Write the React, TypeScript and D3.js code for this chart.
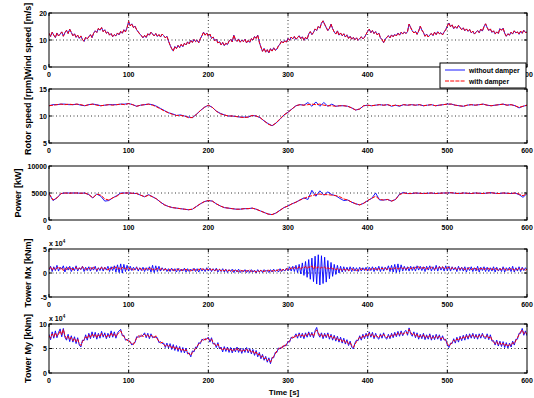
import React from 'react';
import * as d3 from 'd3';

const W = 534;
const H = 398;
const X0 = 49;
const X1 = 527;
const T_END = 600;

const timeTicks = [0, 100, 200, 300, 400, 500, 600];

// wind speed [m/s], every 2 s from 0 to 600 (same input for both runs)
const windSpeed = [
  12.5, 11.3, 12.9, 11.8, 10.9, 12.6, 11.5, 12.2, 13.0, 11.4, 12.7, 13.6, 12.4, 14.0, 12.8, 11.6, 12.3, 11.0, 11.8, 10.6, 11.5, 10.2, 9.5, 11.0, 10.4,
  11.2, 12.0, 10.9, 12.5, 13.4, 12.8, 14.3, 13.6, 14.6, 13.1, 13.8, 12.5, 13.0, 11.8, 12.4, 11.2, 12.0, 11.5, 12.6, 11.9, 13.2, 12.5, 13.8, 13.0, 14.6,
  16.9, 15.2, 16.0, 14.6, 15.1, 13.8, 13.0, 12.2, 11.6, 10.8, 11.7, 10.9, 12.3, 11.8, 12.9, 12.2, 11.5, 12.4, 11.3, 12.0, 11.1, 12.2, 11.6, 10.8, 11.4,
  9.6, 8.1, 6.8, 5.9, 7.6, 6.8, 8.0, 7.2, 8.4, 7.5, 8.8, 8.2, 9.3, 8.6, 9.9, 9.1, 10.2, 9.4, 9.9, 9.0, 10.5, 11.6, 12.9, 11.8, 12.6,
  11.4, 12.2, 10.6, 11.1, 9.7, 10.3, 8.9, 9.4, 8.2, 9.1, 7.9, 8.8, 8.3, 9.6, 10.2, 9.3, 11.8, 10.1, 9.5, 10.4, 9.2, 10.0, 9.4, 10.3, 8.9,
  9.8, 9.1, 10.5, 10.0, 11.3, 10.6, 11.8, 9.2, 7.4, 5.8, 6.9, 5.5, 6.4, 5.2, 6.8, 5.9, 7.1, 6.2, 6.6, 7.8, 8.5, 9.6, 8.9, 9.8, 9.2,
  10.6, 9.9, 11.1, 10.4, 11.3, 10.2, 10.9, 11.6, 10.5, 11.2, 9.9, 11.0, 10.3, 12.2, 13.1, 12.0, 12.8, 14.1, 13.5, 15.0, 14.4, 16.2, 17.1, 15.8, 14.6,
  13.5, 14.3, 15.9, 14.2, 13.0, 12.2, 13.4, 11.8, 12.6, 11.5, 12.3, 11.1, 11.9, 10.6, 11.4, 10.3, 11.0, 10.1, 10.8, 9.9, 10.5, 11.2, 10.4, 11.0, 12.1,
  13.2, 14.0, 12.7, 13.5, 12.4, 13.1, 11.9, 12.6, 10.8, 10.2, 9.0, 10.4, 10.9, 11.6, 10.8, 11.9, 11.2, 12.1, 11.5, 12.6, 11.8, 12.9, 12.2, 13.0, 12.4,
  13.1, 15.9, 14.6, 13.4, 12.6, 13.2, 12.1, 13.3, 15.1, 13.7, 12.8, 11.4, 12.2, 11.1, 11.9, 12.4, 11.6, 12.9, 12.0, 13.1, 12.3, 12.7, 11.9, 13.0, 13.8,
  15.2, 16.3, 14.9, 15.6, 14.2, 15.0, 14.3, 15.4, 14.6, 13.8, 14.5, 13.4, 14.1, 13.2, 13.9, 12.6, 13.3, 12.2, 12.9, 13.5, 12.7, 14.0, 13.3, 14.9, 16.0,
  14.6, 13.5, 14.1, 12.8, 13.4, 12.2, 13.0, 12.4, 14.2, 13.6, 14.4, 12.5, 11.4, 12.3, 11.8, 12.9, 12.2, 13.4, 12.6, 13.0, 12.1, 13.3, 12.5, 13.6, 12.8,
  12.9,
];

// rotor speed [rpm], every 5 s
const rotorWith = [
  11.9, 12.0, 12.1, 12.2, 12.1, 12.2, 12.1, 12.2, 12.1, 11.9,
  12.1, 12.2, 12.0, 11.9, 12.0, 12.1, 12.0, 12.1, 12.2, 12.1,
  12.3, 12.1, 11.8, 12.0, 12.1, 12.2, 12.0, 11.7, 11.3, 10.9,
  10.6, 10.3, 10.1, 10.1, 10.0, 9.7, 9.7, 10.3, 11.0, 11.6,
  12.0, 11.6, 10.9, 10.4, 10.2, 10.0, 10.0, 9.9, 9.8, 9.7,
  9.8, 10.1, 10.0, 9.7, 9.1, 8.5, 8.2, 8.7, 9.5, 10.2,
  10.7, 11.3, 11.9, 12.1, 12.0, 12.1, 12.2, 12.1, 12.2, 12.0,
  11.9, 11.9, 11.8, 11.9, 11.9, 11.8, 11.5, 11.1, 11.3, 11.9,
  12.0, 11.9, 12.0, 12.1, 12.0, 12.1, 11.9, 12.0, 11.9, 12.1,
  12.0, 12.1, 12.0, 12.1, 11.9, 12.0, 12.1, 11.9, 12.0, 12.1,
  12.2, 12.2, 12.0, 11.9, 11.8, 12.0, 12.1, 12.0, 12.1, 12.2,
  12.0, 11.9, 12.0, 12.1, 12.2, 12.0, 12.1, 11.9, 11.6, 11.8,
  12.0,
];
const rotorWithout = [
  11.9, 12.1, 12.1, 12.2, 12.2, 12.1, 12.1, 12.2, 12.0, 11.9,
  12.1, 12.2, 12.1, 11.9, 12.0, 12.1, 12.1, 12.1, 12.2, 12.2,
  12.3, 12.1, 11.8, 12.0, 12.1, 12.2, 12.1, 11.8, 11.4, 11.0,
  10.6, 10.4, 10.1, 10.2, 10.0, 9.8, 9.7, 10.3, 11.0, 11.6,
  12.0, 11.6, 10.9, 10.5, 10.2, 10.0, 10.0, 9.9, 9.8, 9.8,
  9.8, 10.1, 10.0, 9.7, 9.1, 8.6, 8.2, 8.7, 9.4, 10.2,
  10.7, 11.3, 11.9, 12.1, 12.0, 12.5, 11.8, 12.6, 11.8, 12.5,
  11.8, 12.2, 11.8, 11.9, 11.9, 11.8, 11.5, 11.1, 11.3, 11.9,
  12.0, 11.9, 12.0, 12.1, 12.0, 12.1, 11.8, 12.0, 11.8, 12.1,
  12.0, 12.1, 12.0, 12.1, 11.9, 12.0, 12.1, 11.9, 12.0, 12.1,
  12.2, 12.2, 12.0, 11.9, 11.8, 12.0, 12.1, 12.0, 12.1, 12.2,
  12.0, 11.9, 12.0, 12.1, 12.2, 12.0, 12.1, 11.9, 11.5, 11.8,
  12.0,
];

// power [kW], every 5 s
const powerWith = [
  4900, 3700, 4100, 4900, 5000, 4950, 5000, 5000, 4950, 5000,
  4700, 4100, 4800, 4600, 3900, 3700, 4100, 4400, 4900, 5000,
  5000, 4950, 4900, 4600, 4300, 4600, 4300, 3900, 3300, 2800,
  2500, 2300, 2200, 2100, 2000, 1900, 2000, 2500, 3000, 3400,
  3600, 3500, 3000, 2600, 2300, 2200, 2100, 2000, 2000, 2100,
  2100, 2200, 2000, 1700, 1400, 1100, 1000, 1300, 1800, 2300,
  2600, 3000, 3300, 3700, 4000, 4300, 4500, 4700, 4800, 4700,
  4700, 4600, 4500, 4300, 3900, 3700, 3300, 3000, 2800, 3100,
  3600, 4000, 4400, 3800, 3700, 3800, 3500, 3800, 4700, 5000,
  4900, 4900, 5000, 4950, 4900, 4950, 5000, 4900, 4950, 5000,
  5000, 5050, 4950, 4900, 5000, 4950, 4900, 5000, 4950, 4900,
  5000, 5050, 4950, 4900, 5000, 4950, 4900, 5000, 4800, 4500,
  4900,
];
const powerWithout = [
  4900, 3600, 4100, 4900, 5000, 5000, 5000, 5000, 4950, 5000,
  4700, 4100, 4800, 4400, 3500, 3600, 4100, 4500, 5000, 5000,
  5000, 4950, 4900, 4600, 4300, 4700, 4300, 3900, 3300, 2800,
  2500, 2300, 2200, 2100, 2000, 1900, 2000, 2500, 3000, 3400,
  3600, 3500, 3000, 2600, 2300, 2200, 2100, 2000, 2000, 2100,
  2100, 2200, 2000, 1700, 1400, 1100, 1000, 1300, 1800, 2300,
  2600, 3000, 3300, 3700, 4100, 3800, 5500, 4400, 5400, 4600,
  5200, 4700, 4500, 4000, 3600, 3700, 3300, 3000, 2800, 3100,
  3600, 4000, 5000, 3700, 3700, 3800, 3500, 3800, 4800, 5100,
  4900, 4900, 5000, 4950, 4900, 4950, 5000, 4900, 4950, 5000,
  5000, 5050, 4950, 4900, 5000, 4950, 4900, 5000, 4950, 4900,
  5000, 5050, 4950, 4900, 5000, 4950, 4900, 5000, 4700, 4200,
  4900,
];

// tower moments [x10^4 kNm], every 2 s
const mxWith = [
  0.9, 1.2, 0.6, 1.1, 0.7, 1.0, 1.3, 0.8, 1.1, 0.5, 1.0, 0.7, 1.2, 0.8, 1.1, 0.6, 0.9, 1.2, 0.7, 1.0, 0.8, 1.3, 0.9, 0.6, 1.0,
  0.8, 1.1, 0.7, 1.2, 0.9, 0.6, 1.0, 0.8, 1.2, 0.7, 1.1, 0.9, 0.6, 1.0, 0.8, 1.2, 0.9, 1.3, 0.8, 1.1, 0.7, 1.2, 0.9, 1.0, 0.7,
  1.1, 0.8, 1.0, 0.6, 0.9, 1.1, 0.7, 1.0, 0.8, 0.5, 0.9, 0.7, 1.0, 0.8, 1.1, 0.6, 0.9, 0.7, 1.0, 0.6, 0.8, 0.9, 0.6, 0.8, 0.7,
  0.5, 0.8, 0.6, 0.7, 0.5, 0.8, 0.6, 0.9, 0.5, 0.7, 0.6, 0.8, 0.5, 0.7, 0.4, 0.8, 0.6, 0.7, 0.5, 0.8, 0.6, 0.9, 0.7, 0.6, 0.8,
  0.7, 0.9, 0.6, 0.8, 0.5, 0.7, 0.6, 0.8, 0.4, 0.6, 0.5, 0.7, 0.4, 0.6, 0.5, 0.3, 0.6, 0.4, 0.5, 0.3, 0.6, 0.4, 0.5, 0.3, 0.5,
  0.4, 0.6, 0.3, 0.5, 0.4, 0.2, 0.5, 0.3, 0.6, 0.4, 0.3, 0.5, 0.4, 0.6, 0.3, 0.5, 0.4, 0.6, 0.5, 0.7, 0.4, 0.6, 0.7, 0.5, 0.8,
  0.9, 0.7, 1.1, 0.8, 1.2, 0.9, 1.0, 1.3, 0.8, 1.2, 1.0, 1.4, 0.9, 1.3, 1.1, 1.5, 0.8, 1.4, 1.0, 1.3, 0.9, 1.2, 1.0, 1.3, 0.8,
  1.1, 0.9, 1.2, 0.8, 1.0, 0.7, 0.9, 0.6, 0.8, 0.5, 0.8, 0.6, 0.9, 0.5, 0.7, 0.9, 0.6, 0.8, 0.5, 0.7, 0.6, 0.9, 0.7, 0.8, 0.6,
  0.8, 0.6, 0.9, 0.7, 1.0, 0.6, 0.8, 0.9, 0.7, 1.0, 0.8, 1.1, 0.7, 0.9, 1.0, 0.8, 1.1, 0.9, 1.2, 0.8, 1.0, 1.2, 0.9, 1.1, 0.8,
  1.0, 1.2, 0.9, 1.1, 0.8, 1.2, 1.0, 1.3, 0.9, 1.1, 1.0, 1.2, 0.8, 1.1, 0.9, 1.2, 1.0, 0.8, 1.1, 0.9, 1.2, 1.0, 1.3, 0.9, 1.1,
  1.0, 1.2, 0.8, 1.1, 0.9, 1.0, 0.7, 1.0, 0.8, 1.1, 0.9, 0.7, 1.0, 0.8, 1.1, 0.7, 0.9, 0.8, 1.0, 0.6, 0.9, 0.8, 1.1, 0.7, 0.9,
  0.8, 1.0, 0.6, 0.9, 0.7, 1.0, 0.8, 0.6, 0.9, 0.7, 1.0, 0.8, 0.6, 0.9, 0.7, 1.0, 0.8, 0.6, 0.9, 0.7, 1.0, 0.7, 0.9, 0.8, 0.6,
  0.8,
];
const mxWithout = [
  0.6, 1.4, 0.3, 1.3, 0.5, 1.6, 0.4, 1.2, 0.8, 1.5, 0.2, 1.3, 0.6, 1.4, 0.3, 1.2, 0.5, 1.5, 0.4, 1.1, 0.7, 1.4, 0.3, 1.2, 0.5,
  1.3, 0.4, 1.2, 0.6, 1.4, 0.3, 1.1, 0.5, 1.3, 0.4, 1.2, 0.6, 1.4, 0.3, 1.3, 0.5, 1.5, 0.2, 1.7, 0.1, 1.9, 0.0, 1.8, 0.3, 1.6,
  0.4, 1.4, 0.5, 1.2, 0.6, 1.3, 0.4, 1.1, 0.5, 1.2, 0.3, 1.1, 0.5, 1.3, 0.2, 1.6, 0.1, 1.5, 0.3, 1.4, 0.4, 1.1, 0.5, 1.0, 0.3,
  0.9, 0.3, 1.0, 0.4, 0.9, 0.2, 1.0, 0.3, 0.8, 0.4, 1.0, 0.2, 0.9, 0.3, 0.8, 0.4, 1.0, 0.3, 0.9, 0.2, 1.0, 0.4, 0.9, 0.3, 1.1,
  0.4, 1.0, 0.3, 0.9, 0.4, 1.0, 0.2, 0.8, 0.3, 0.9, 0.2, 0.8, 0.1, 0.7, 0.3, 0.8, 0.1, 0.7, 0.2, 0.8, 0.1, 0.6, 0.2, 0.7, 0.1,
  0.6, 0.1, 0.7, 0.2, 0.6, 0.0, 0.7, 0.2, 0.6, 0.1, 0.7, 0.3, 0.6, 0.1, 0.7, 0.2, 0.8, 0.3, 0.7, 0.2, 0.9, 0.3, 0.8, 0.4, 1.0,
  0.5, 1.3, 0.4, 1.4, 0.3, 1.6, 0.1, 1.8, -0.2, 2.1, -0.5, 2.4, -0.9, 2.8, -1.3, 3.1, -1.8, 3.5, -2.3, 3.8, -2.5, 3.6, -2.2, 3.3, -1.9,
  2.6, -1.2, 2.2, -0.7, 1.8, -0.3, 1.6, 0.0, 1.4, 0.2, 1.3, 0.3, 1.2, 0.4, 1.3, 0.3, 1.2, 0.4, 1.1, 0.3, 1.2, 0.4, 1.1, 0.5, 1.2,
  0.4, 1.2, 0.5, 1.3, 0.3, 1.2, 0.5, 1.4, 0.3, 1.3, 0.4, 1.2, 0.6, 1.5, 0.3, 1.6, 0.2, 1.8, 0.1, 1.9, 0.2, 1.7, 0.4, 1.4, 0.5,
  1.3, 0.4, 1.4, 0.5, 1.3, 0.4, 1.5, 0.6, 1.4, 0.5, 1.3, 0.3, 1.4, 0.6, 1.5, 0.4, 1.3, 0.5, 1.6, 0.4, 1.4, 0.6, 1.3, 0.4, 1.5,
  0.5, 1.4, 0.4, 1.3, 0.6, 1.2, 0.3, 1.4, 0.5, 1.2, 0.4, 1.3, 0.2, 1.2, 0.5, 1.3, 0.3, 1.1, 0.4, 1.4, 0.2, 1.2, 0.5, 1.3, 0.3,
  1.2, 0.3, 1.1, 0.4, 1.3, 0.2, 1.2, 0.4, 1.0, 0.3, 1.3, 0.2, 1.1, 0.5, 1.2, 0.3, 1.4, 0.2, 1.1, 0.4, 1.3, 0.3, 1.2, 0.5, 1.1,
  0.6,
];
const myWith = [
  7.6, 7.1, 8.0, 7.4, 8.2, 7.5, 7.9, 8.6, 7.8, 8.9, 7.6, 7.0, 7.5, 6.8, 7.3, 6.6, 7.1, 6.4, 6.9, 6.0, 5.6, 6.4, 6.9, 7.4, 7.0,
  7.8, 7.3, 8.0, 7.5, 7.9, 7.2, 7.8, 7.4, 8.1, 7.6, 7.9, 7.3, 7.8, 7.5, 8.2, 7.6, 8.0, 7.4, 7.9, 8.3, 8.6, 7.9, 7.4, 7.0, 6.6,
  6.8, 6.2, 6.0, 5.8, 6.5, 7.1, 7.6, 7.3, 7.8, 7.4, 7.9, 7.5, 7.8, 7.3, 7.7, 7.5, 7.1, 7.6, 6.9, 6.5, 6.1, 6.3, 5.8, 5.5, 5.8,
  5.4, 5.7, 5.1, 5.5, 4.9, 5.3, 4.7, 5.1, 4.5, 4.9, 4.4, 4.8, 4.2, 3.8, 3.6, 4.2, 4.6, 5.0, 5.5, 5.9, 6.3, 6.6, 7.0, 6.7, 7.2,
  7.0, 6.6, 6.9, 6.2, 5.8, 5.5, 5.9, 5.2, 5.0, 4.6, 5.1, 4.7, 5.0, 4.5, 4.9, 4.4, 4.8, 4.6, 5.0, 4.5, 4.8, 4.3, 4.7, 4.5, 4.9,
  4.4, 4.7, 4.2, 4.5, 3.9, 4.3, 3.6, 3.9, 3.2, 3.5, 2.9, 3.1, 2.5, 2.8, 2.2, 2.9, 3.4, 3.9, 4.5, 4.8, 5.2, 5.0, 5.6, 5.4, 5.9,
  6.2, 6.6, 7.0, 7.4, 7.1, 7.7, 7.4, 7.9, 7.5, 7.8, 7.3, 7.9, 7.6, 8.1, 7.7, 8.0, 7.5, 8.3, 8.8, 8.2, 7.6, 7.9, 7.3, 7.8, 7.5,
  7.9, 7.2, 7.6, 7.0, 7.4, 6.8, 7.2, 6.6, 7.0, 6.4, 6.8, 6.2, 6.5, 5.9, 6.2, 5.6, 5.2, 5.8, 6.4, 6.9, 7.3, 7.0, 7.6, 7.3, 7.8,
  7.5, 8.1, 7.6, 8.0, 7.3, 7.8, 7.5, 7.2, 7.7, 7.4, 7.9, 7.5, 7.2, 7.6, 7.3, 7.8, 7.5, 8.0, 7.7, 8.2, 7.8, 8.3, 7.9, 8.1, 8.4,
  8.0, 8.9, 8.3, 7.8, 8.1, 7.5, 7.9, 7.2, 7.6, 7.3, 7.8, 7.1, 7.5, 7.2, 7.7, 7.0, 7.4, 7.1, 7.6, 7.2, 7.5, 6.9, 7.3, 7.0, 6.6,
  6.0, 5.5, 5.8, 6.3, 6.7, 6.4, 7.0, 6.6, 7.2, 6.9, 7.4, 7.0, 7.6, 7.2, 7.7, 7.4, 7.8, 7.3, 7.6, 7.2, 7.7, 7.4, 7.8, 7.5, 7.3,
  7.7, 7.1, 7.5, 6.8, 6.3, 6.0, 6.4, 5.8, 6.2, 5.7, 6.1, 5.5, 5.9, 5.4, 5.8, 5.6, 6.2, 6.0, 6.6, 7.2, 7.8, 8.4, 8.8, 8.0, 8.3,
  7.9,
];
const myWithout = [
  7.9, 6.8, 8.4, 7.1, 8.6, 7.2, 8.3, 9.0, 7.4, 9.1, 7.3, 6.7, 7.9, 6.4, 7.6, 6.3, 7.4, 6.0, 7.2, 5.7, 5.3, 6.7, 6.6, 7.8, 6.7,
  8.1, 7.0, 8.4, 7.2, 8.3, 6.9, 8.1, 7.1, 8.5, 7.3, 8.2, 7.0, 8.1, 7.2, 8.6, 7.3, 8.4, 7.1, 8.2, 8.6, 8.9, 7.6, 7.7, 6.7, 6.9,
  6.5, 6.4, 5.7, 6.1, 6.2, 7.4, 7.3, 7.6, 7.5, 7.7, 8.2, 7.2, 8.1, 7.0, 8.0, 7.2, 7.4, 7.3, 7.2, 6.2, 6.4, 6.0, 6.1, 5.2, 6.1,
  5.1, 6.0, 4.8, 5.8, 4.6, 5.6, 4.4, 5.4, 4.2, 5.2, 4.1, 5.1, 3.9, 4.1, 3.3, 4.5, 4.3, 5.3, 5.2, 6.2, 6.0, 6.9, 6.7, 7.0, 6.9,
  7.3, 6.3, 7.2, 5.9, 6.1, 5.2, 6.2, 4.9, 5.3, 4.3, 5.4, 4.4, 5.3, 4.2, 5.2, 4.1, 5.1, 4.3, 5.3, 4.2, 5.1, 4.0, 5.0, 4.2, 5.2,
  4.1, 5.0, 3.9, 4.8, 3.6, 4.6, 3.3, 4.2, 2.9, 3.8, 2.6, 3.4, 2.2, 3.1, 1.9, 3.2, 3.1, 4.2, 4.2, 5.1, 4.9, 5.3, 5.3, 5.7, 5.6,
  6.5, 6.3, 7.3, 7.1, 7.4, 8.0, 7.1, 8.2, 7.2, 8.1, 7.0, 8.2, 7.3, 8.4, 7.4, 8.3, 7.2, 8.6, 9.3, 7.9, 7.3, 8.2, 7.0, 8.1, 7.2,
  8.2, 6.9, 7.9, 6.7, 7.7, 6.5, 7.5, 6.3, 7.3, 6.1, 7.1, 5.9, 6.8, 5.6, 6.5, 5.3, 4.9, 6.1, 6.7, 6.6, 7.6, 6.7, 7.9, 7.0, 8.1,
  7.2, 8.4, 7.3, 8.3, 7.0, 8.1, 7.2, 6.9, 8.0, 7.1, 8.2, 7.2, 6.9, 7.9, 7.0, 8.1, 7.2, 8.3, 7.4, 8.5, 7.5, 8.6, 7.6, 8.4, 8.7,
  7.7, 9.2, 8.0, 7.5, 8.4, 7.2, 8.2, 6.9, 7.9, 7.0, 8.1, 6.8, 7.8, 6.9, 8.0, 6.7, 7.7, 6.8, 7.9, 6.9, 7.8, 6.6, 7.6, 6.7, 6.9,
  5.7, 5.2, 6.1, 6.0, 7.0, 6.1, 7.3, 6.3, 7.5, 6.6, 7.7, 6.7, 7.9, 6.9, 8.0, 7.1, 8.1, 7.0, 7.9, 6.9, 8.0, 7.1, 8.1, 7.2, 7.0,
  8.0, 6.8, 7.8, 6.5, 6.6, 5.7, 6.7, 5.5, 6.5, 5.4, 6.4, 5.2, 6.2, 5.1, 6.1, 5.3, 6.5, 5.7, 6.9, 6.9, 8.1, 8.1, 9.1, 7.7, 8.6,
  7.6,
];

const panels = [
  { label: 'Wind speed [m/s]', domain: [0, 20], ticks: [0, 10, 20], tickText: ['0', '10', '20'], blue: windSpeed, red: windSpeed, exp: false },
  { label: 'Rotor speed [rpm]', domain: [5, 15], ticks: [5, 10, 15], tickText: ['5', '10', '15'], blue: rotorWithout, red: rotorWith, exp: false },
  { label: 'Power [kW]', domain: [0, 10000], ticks: [0, 5000, 10000], tickText: ['0', '5000', '10000'], blue: powerWithout, red: powerWith, exp: false },
  { label: 'Tower Mx [kNm]', domain: [-5, 5], ticks: [-5, 0, 5], tickText: ['-5', '0', '5'], blue: mxWithout, red: mxWith, exp: true },
  { label: 'Tower My [kNm]', domain: [0, 10], ticks: [0, 5, 10], tickText: ['0', '5', '10'], blue: myWithout, red: myWith, exp: true },
];

// panel boxes (top, bottom) and y-label baseline x, in px
const boxes = [
  [13, 67],
  [89, 143],
  [166, 220],
  [249, 297],
  [324, 373],
];
const labelX = [31, 31, 21, 31, 31];

const FONT = '"Liberation Sans", Arial, sans-serif';
const x = d3.scaleLinear().domain([0, T_END]).range([X0, X1]);

function Panel({ p, i }: { p: (typeof panels)[number]; i: number }) {
  const [top, bottom] = boxes[i];
  const y = d3.scaleLinear().domain(p.domain).range([bottom, top]);
  const lineFor = (vals: number[]) =>
    d3
      .line<number>()
      .x((_, k) => x((k * T_END) / (vals.length - 1)))
      .y((v) => y(v))(vals) ?? '';
  const mid = p.ticks[1];
  const clipId = `clip${i}`;
  return (
    <g>
      <clipPath id={clipId}>
        <rect x={X0} y={top} width={X1 - X0} height={bottom - top} />
      </clipPath>
      <rect x={X0} y={top} width={X1 - X0} height={bottom - top} fill="#fff" />
      {timeTicks.slice(1, -1).map((t) => (
        <line key={t} x1={x(t)} x2={x(t)} y1={top} y2={bottom} stroke="#000" strokeWidth={0.8} strokeDasharray="1,2.5" />
      ))}
      <line x1={X0} x2={X1} y1={y(mid)} y2={y(mid)} stroke="#000" strokeWidth={0.8} strokeDasharray="1,2.5" />
      <g clipPath={`url(#${clipId})`}>
        <path d={lineFor(p.blue)} fill="none" stroke="#0000ff" strokeWidth={0.9} />
        <path d={lineFor(p.red)} fill="none" stroke="#ff0000" strokeWidth={1} strokeDasharray="4,1.2" />
      </g>
      {timeTicks.map((t) => (
        <g key={t}>
          <line x1={x(t)} x2={x(t)} y1={bottom} y2={bottom - 3} stroke="#000" />
          <line x1={x(t)} x2={x(t)} y1={top} y2={top + 3} stroke="#000" />
          <text x={x(t)} y={bottom + 10} textAnchor="middle" fontSize={7} fontWeight="bold" fontFamily={FONT}>
            {t}
          </text>
        </g>
      ))}
      {p.ticks.map((v, k) => (
        <g key={v}>
          <line x1={X0} x2={X0 + 3} y1={y(v)} y2={y(v)} stroke="#000" />
          <line x1={X1} x2={X1 - 3} y1={y(v)} y2={y(v)} stroke="#000" />
          <text x={X0 - 2} y={y(v) + 2.5} textAnchor="end" fontSize={7} fontWeight="bold" fontFamily={FONT}>
            {p.tickText[k]}
          </text>
        </g>
      ))}
      <rect x={X0} y={top} width={X1 - X0} height={bottom - top} fill="none" stroke="#000" strokeWidth={1} />
      {p.exp && (
        <text x={X0} y={top - 3} fontSize={7} fontWeight="bold" fontFamily={FONT}>
          x 10<tspan fontSize={4.5} dy={-3}>4</tspan>
        </text>
      )}
      <text
        transform={`translate(${labelX[i]},${(top + bottom) / 2}) rotate(-90)`}
        textAnchor="middle"
        fontSize={9}
        fontWeight="bold"
        fontFamily={FONT}
      >
        {p.label}
      </text>
    </g>
  );
}

export default function App() {
  return (
    <svg width={W} height={H} style={{ display: 'block', position: 'absolute', left: 0, top: 0, background: '#fff' }}>
      <rect width={W} height={H} fill="#fff" />
      {panels.map((p, i) => (
        <Panel key={p.label} p={p} i={i} />
      ))}
      <text x={284} y={395} textAnchor="middle" fontSize={8} fontWeight="bold" fontFamily={FONT}>
        Time [s]
      </text>
      <g>
        <rect x={440} y={63} width={86} height={25} fill="#fff" stroke="#000" strokeWidth={1} />
        <line x1={445} x2={465} y1={70} y2={70} stroke="#0000ff" strokeWidth={0.9} />
        <text x={469} y={72.6} fontSize={6.8} fontWeight="bold" fontFamily={FONT}>
          without damper
        </text>
        <line x1={445} x2={465} y1={81} y2={81} stroke="#ff0000" strokeWidth={1} strokeDasharray="4,1.2" />
        <text x={469} y={83.6} fontSize={6.8} fontWeight="bold" fontFamily={FONT}>
          with damper
        </text>
      </g>
    </svg>
  );
}
